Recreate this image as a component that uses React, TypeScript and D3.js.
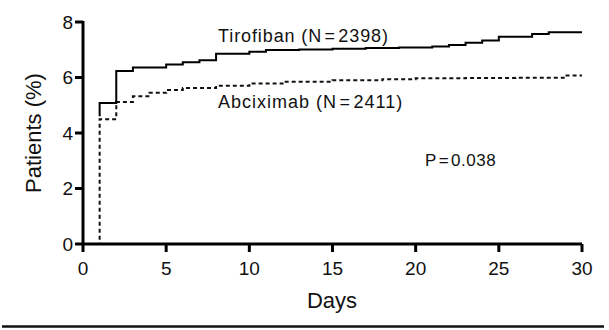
import React from "react";
import * as d3 from "d3";

const tirofibanDays = [1, 1, 2, 3, 5, 6, 7, 8, 10, 11, 13, 15, 17, 19, 21, 22, 23, 24, 25, 27, 28, 30];
const tirofibanPct = [4.6, 5.08, 6.23, 6.36, 6.47, 6.55, 6.62, 6.86, 6.93, 6.99, 7.01, 7.04, 7.06, 7.08, 7.12, 7.17, 7.25, 7.33, 7.47, 7.57, 7.63, 7.63];

const abciximabDays = [0, 1, 2, 3, 4, 5, 6, 8, 10, 12, 15, 18, 20, 23, 26, 29, 30];
const abciximabPct = [0, 4.5, 5.12, 5.32, 5.45, 5.55, 5.62, 5.7, 5.78, 5.85, 5.9, 5.94, 5.97, 5.98, 5.99, 6.07, 6.07];

const xTicks = [0, 5, 10, 15, 20, 25, 30];
const yTicks = [0, 2, 4, 6, 8];

const labels = {
  tirofiban: "Tirofiban (N\u200a=\u200a2398)",
  abciximab: "Abciximab (N\u200a=\u200a2411)",
  p: "P\u200a=\u200a0.038",
  x: "Days",
  y: "Patients (%)",
};

const W = 609;
const H = 330;
const FONT = "'Liberation Sans', Arial, sans-serif";

export default function App() {
  const x = d3.scaleLinear().domain([0, 30]).range([83, 582]);
  const y = d3.scaleLinear().domain([0, 8]).range([244, 22]);
  const line = d3
    .line<[number, number]>()
    .x((d) => x(d[0]))
    .y((d) => y(d[1]))
    .curve(d3.curveStepAfter);
  const tiro: [number, number][] = tirofibanDays.map((d, i) => [d, tirofibanPct[i]]);
  const abci: [number, number][] = abciximabDays.map((d, i) => [d, abciximabPct[i]]);

  return (
    <div style={{ position: "absolute", left: 0, top: 0 }}>
      <svg width={W} height={H} style={{ display: "block", background: "#fff" }} fontFamily={FONT}>
        {/* data lines */}
        <path d={line(abci) || ""} fill="none" stroke="#111" strokeWidth={2} strokeDasharray="4,3" />
        <path d={line(tiro) || ""} fill="none" stroke="#000" strokeWidth={2} />

        {/* axes */}
        <line x1={x(0)} x2={x(30)} y1={y(0)} y2={y(0)} stroke="#000" strokeWidth={3} />
        <line x1={x(0)} x2={x(0)} y1={y(8) - 1} y2={y(0) + 1} stroke="#000" strokeWidth={3} />
        {yTicks.map((t) => (
          <g key={"y" + t}>
            <line x1={x(0) - 8} x2={x(0)} y1={y(t)} y2={y(t)} stroke="#000" strokeWidth={3} />
            <text x={x(0) - 10} y={y(t)} dy="0.36em" textAnchor="end" fontSize={19} fill="#111">
              {t}
            </text>
          </g>
        ))}
        {xTicks.map((t) => (
          <g key={"x" + t}>
            <line x1={x(t)} x2={x(t)} y1={y(0)} y2={y(0) + 8} stroke="#000" strokeWidth={3} />
            <text x={x(t)} y={y(0) + 31} textAnchor="middle" fontSize={19} fill="#111">
              {t}
            </text>
          </g>
        ))}
        <text x={332} y={308} textAnchor="middle" fontSize={22} fill="#111">
          {labels.x}
        </text>
        <text
          transform={`translate(41,${(y(0) + y(8)) / 2}) rotate(-90)`}
          textAnchor="middle"
          fontSize={22}
          fill="#111"
        >
          {labels.y}
        </text>

        {/* annotations */}
        <text x={218} y={42} fontSize={18} letterSpacing={0.9} fill="#111">
          {labels.tirofiban}
        </text>
        <text x={218} y={108} fontSize={18} letterSpacing={1.0} fill="#111">
          {labels.abciximab}
        </text>
        <text x={425} y={166} fontSize={17} letterSpacing={0.5} fill="#111">
          {labels.p}
        </text>

        {/* bottom rule */}
        <line x1={2} x2={604} y1={326.5} y2={326.5} stroke="#111" strokeWidth={2.5} />
      </svg>
    </div>
  );
}
